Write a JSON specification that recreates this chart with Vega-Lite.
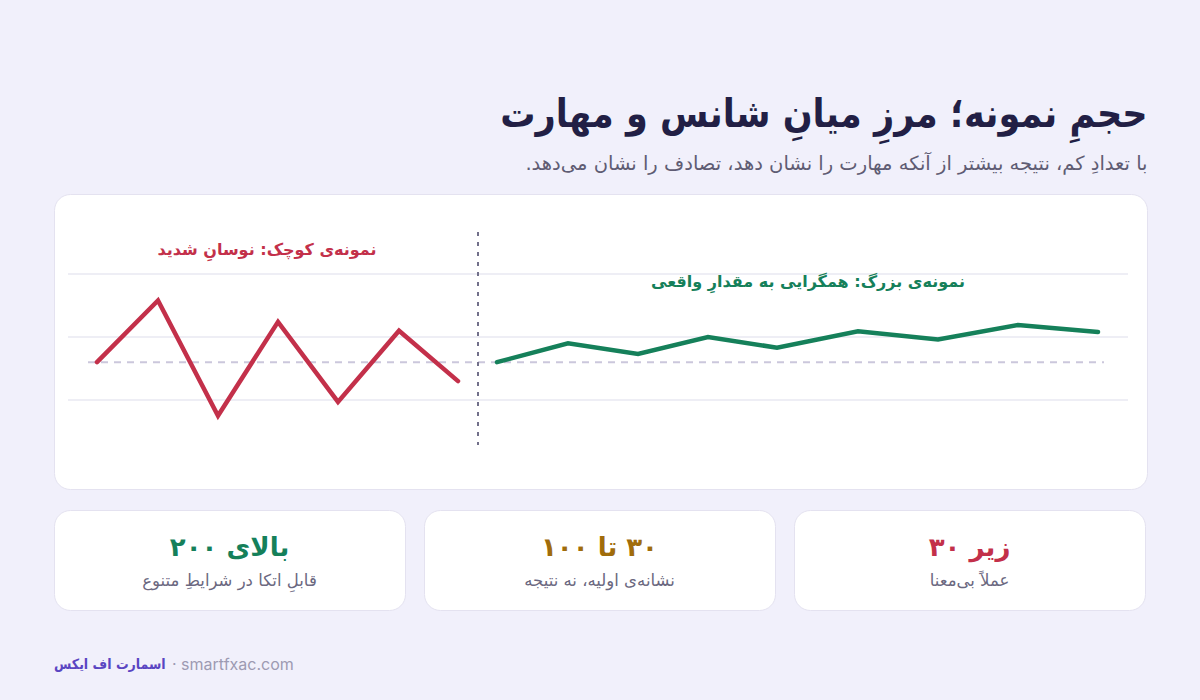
{
  "$schema": "https://vega.github.io/schema/vega-lite/v6.json",
  "background": "#f1f0fb",
  "padding": {"left": 53, "right": 54, "top": 96, "bottom": 0},
  "title": {
    "text": "حجمِ نمونه؛ مرزِ میانِ شانس و مهارت",
    "subtitle": "با تعدادِ کم، نتیجه بیشتر از آنکه مهارت را نشان دهد، تصادف را نشان می‌دهد.‏",
    "anchor": "end",
    "font": "DejaVu Sans Condensed",
    "fontSize": 39,
    "fontWeight": "bold",
    "color": "#221f45",
    "subtitleFont": "DejaVu Sans",
    "subtitleFontSize": 19.5,
    "subtitleColor": "#5f5c73",
    "subtitlePadding": 20,
    "offset": 20
  },
  "spacing": 19,
  "resolve": {"scale": {"color": "independent"}},
  "vconcat": [
    {
      "width": 1093,
      "height": 295,
      "data": {
        "values": [
          {"group": "small", "x": 4.3, "value": 46.0},
          {"group": "small", "x": 10.4, "value": 55.8},
          {"group": "small", "x": 16.4, "value": 37.5},
          {"group": "small", "x": 22.4, "value": 52.4},
          {"group": "small", "x": 28.4, "value": 39.7},
          {"group": "small", "x": 34.5, "value": 51.0},
          {"group": "small", "x": 40.4, "value": 43.0},
          {"group": "large", "x": 44.3, "value": 46.0},
          {"group": "large", "x": 51.4, "value": 49.0},
          {"group": "large", "x": 58.4, "value": 47.3},
          {"group": "large", "x": 65.4, "value": 50.0},
          {"group": "large", "x": 72.3, "value": 48.3},
          {"group": "large", "x": 80.4, "value": 50.9},
          {"group": "large", "x": 88.4, "value": 49.6},
          {"group": "large", "x": 96.4, "value": 51.9},
          {"group": "large", "x": 104.4, "value": 50.8}
        ]
      },
      "layer": [
        {
          "data": {"values": [{"level": 40}, {"level": 50}, {"level": 60}]},
          "mark": {"type": "rule", "color": "#e9e8f2", "strokeWidth": 1.5},
          "encoding": {
            "y": {"field": "level", "type": "quantitative", "scale": {"domain": [25.87, 72.7], "nice": false, "zero": false}, "axis": null},
            "x": {"datum": 1.4, "type": "quantitative", "scale": {"domain": [0, 109.3], "nice": false, "zero": false}, "axis": null},
            "x2": {"datum": 107.4}
          }
        },
        {
          "data": {"values": [{"trueValue": 46}]},
          "mark": {"type": "rule", "color": "#cbc7dc", "strokeWidth": 2, "strokeDash": [7, 6]},
          "encoding": {
            "y": {"field": "trueValue", "type": "quantitative"},
            "x": {"datum": 3.4, "type": "quantitative"},
            "x2": {"datum": 105}
          }
        },
        {
          "data": {"values": [{"split": 42.4}]},
          "mark": {"type": "rule", "color": "#72708a", "strokeWidth": 2, "strokeDash": [4, 6]},
          "encoding": {
            "x": {"field": "split", "type": "quantitative"},
            "y": {"datum": 66.67, "type": "quantitative"},
            "y2": {"datum": 32.86}
          }
        },
        {
          "mark": {"type": "line", "strokeWidth": 4.5, "strokeCap": "round"},
          "encoding": {
            "x": {"field": "x", "type": "quantitative"},
            "y": {"field": "value", "type": "quantitative"},
            "color": {"field": "group", "type": "nominal", "scale": {"domain": ["small", "large"], "range": ["#c3304a", "#15805a"]}, "legend": null}
          }
        },
        {
          "data": {
            "values": [
              {"group": "small", "label": "نمونه‌ی کوچک: نوسانِ شدید", "x": 21.3, "y": 63.8},
              {"group": "large", "label": "نمونه‌ی بزرگ: همگرایی به مقدارِ واقعی", "x": 75.4, "y": 58.7}
            ]
          },
          "mark": {"type": "text", "font": "DejaVu Sans", "fontSize": 16, "fontWeight": "bold"},
          "encoding": {
            "x": {"field": "x", "type": "quantitative"},
            "y": {"field": "y", "type": "quantitative"},
            "text": {"field": "label"},
            "color": {"field": "group", "type": "nominal", "legend": null}
          }
        }
      ]
    },
    {
      "data": {
        "values": [
          {"order": 1, "title": "‏زیر ۳۰", "desc": "عملاً بی‌معنا", "level": "low"},
          {"order": 2, "title": "‏۳۰ تا ۱۰۰", "desc": "نشانه‌ی اولیه، نه نتیجه", "level": "mid"},
          {"order": 3, "title": "‏بالای ۲۰۰", "desc": "قابلِ اتکا در شرایطِ متنوع", "level": "high"}
        ]
      },
      "spacing": 17,
      "hconcat": [
        {
          "width": 351,
          "height": 100,
          "view": {"fill": "white", "stroke": "#e4e2f0", "cornerRadius": 16, "strokeWidth": 1},
          "transform": [{"filter": "datum.order == 3"}],
          "layer": [
            {
              "mark": {"type": "text", "font": "DejaVu Sans", "fontSize": 26, "fontWeight": "bold", "dy": -12},
              "encoding": {
                "text": {"field": "title"},
                "color": {"field": "level", "type": "nominal", "scale": {"domain": ["low", "mid", "high"], "range": ["#c3304a", "#a06c0b", "#15805a"]}, "legend": null}
              }
            },
            {
              "mark": {"type": "text", "font": "DejaVu Sans", "fontSize": 16.5, "dy": 21, "color": "#6b6880"},
              "encoding": {"text": {"field": "desc"}}
            }
          ]
        },
        {
          "width": 351,
          "height": 100,
          "view": {"fill": "white", "stroke": "#e4e2f0", "cornerRadius": 16, "strokeWidth": 1},
          "transform": [{"filter": "datum.order == 2"}],
          "layer": [
            {
              "mark": {"type": "text", "font": "DejaVu Sans", "fontSize": 26, "fontWeight": "bold", "dy": -12},
              "encoding": {
                "text": {"field": "title"},
                "color": {"field": "level", "type": "nominal", "scale": {"domain": ["low", "mid", "high"], "range": ["#c3304a", "#a06c0b", "#15805a"]}, "legend": null}
              }
            },
            {
              "mark": {"type": "text", "font": "DejaVu Sans", "fontSize": 16.5, "dy": 21, "color": "#6b6880"},
              "encoding": {"text": {"field": "desc"}}
            }
          ]
        },
        {
          "width": 351,
          "height": 100,
          "view": {"fill": "white", "stroke": "#e4e2f0", "cornerRadius": 16, "strokeWidth": 1},
          "transform": [{"filter": "datum.order == 1"}],
          "layer": [
            {
              "mark": {"type": "text", "font": "DejaVu Sans", "fontSize": 26, "fontWeight": "bold", "dy": -12},
              "encoding": {
                "text": {"field": "title"},
                "color": {"field": "level", "type": "nominal", "scale": {"domain": ["low", "mid", "high"], "range": ["#c3304a", "#a06c0b", "#15805a"]}, "legend": null}
              }
            },
            {
              "mark": {"type": "text", "font": "DejaVu Sans", "fontSize": 16.5, "dy": 21, "color": "#6b6880"},
              "encoding": {"text": {"field": "desc"}}
            }
          ]
        }
      ]
    },
    {
      "width": 1093,
      "height": 70,
      "view": {"stroke": null, "fill": null},
      "layer": [
        {
          "data": {"values": [{"part": "brand", "label": "اسمارت اف ایکس"}]},
          "mark": {"type": "text", "align": "left", "font": "DejaVu Sans Condensed", "fontSize": 14, "fontWeight": "bold", "color": "#5a45c2"},
          "encoding": {
            "x": {"field": "part", "type": "nominal", "scale": {"type": "point", "domain": ["brand", "site"], "range": [0, 118], "padding": 0}, "axis": null},
            "text": {"field": "label"}
          }
        },
        {
          "data": {"values": [{"part": "site", "label": "· smartfxac.com"}]},
          "mark": {"type": "text", "align": "left", "font": "Inter", "fontSize": 16, "color": "#9d9ab2"},
          "encoding": {
            "x": {"field": "part", "type": "nominal"},
            "text": {"field": "label"}
          }
        }
      ]
    }
  ],
  "config": {
    "view": {"fill": "white", "stroke": "#e4e2f0", "cornerRadius": 16, "strokeWidth": 1},
    "concat": {"spacing": 17}
  }
}
